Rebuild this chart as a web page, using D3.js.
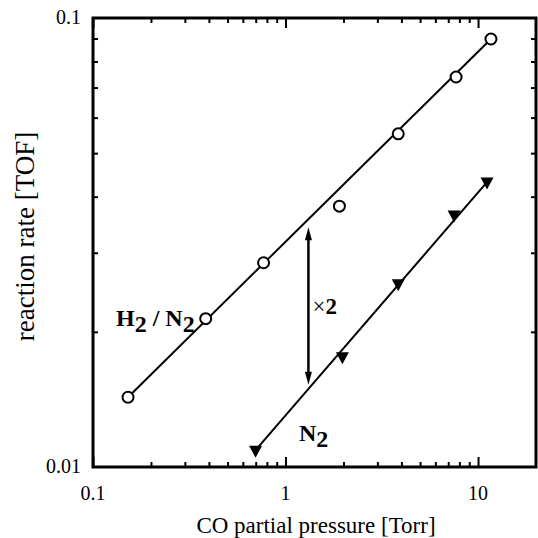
<!DOCTYPE html>
<html>
<head>
<meta charset="utf-8">
<script src="https://cdn.jsdelivr.net/npm/d3@7"></script>
<style>
  body { margin: 0; background: #fff; }
  svg { display: block; }
  text { font-family: "Liberation Serif", "Times New Roman", serif; fill: #000; }
</style>
</head>
<body>
<svg id="chart" width="538" height="538"></svg>
<script>
// data
const h2n2_pressure = [0.152, 0.385, 0.769, 1.905, 3.85, 7.69, 11.67];
const h2n2_rate     = [0.0143, 0.0214, 0.0285, 0.0381, 0.0552, 0.0739, 0.0898];
const n2_pressure   = [0.699, 1.974, 3.85, 7.51, 11.13];
const n2_rate       = [0.0109, 0.0176, 0.0256, 0.0364, 0.0431];
const arrow_x = 1.315, arrow_top = 0.0342, arrow_bottom = 0.01524;
const x_major = [0.1, 1, 10];
const x_minor = [0.2,0.3,0.4,0.5,0.6,0.7,0.8,0.9, 2,3,4,5,6,7,8,9];
const y_major = [0.01, 0.1];
const y_minor = [0.02,0.03,0.04,0.05,0.06,0.07,0.08,0.09];

let width = 538, height = 538,
    margins = {top: 18, bottom: 71, left: 93, right: 2};

const svg = d3.select("#chart");

const x = d3.scaleLog().domain([0.1, 20]).range([margins.left, width - margins.right]);
const y = d3.scaleLog().domain([0.01, 0.1]).range([height - margins.bottom, margins.top]);

const x0 = x.range()[0], x1 = x.range()[1], yb = y.range()[0], yt = y.range()[1];

// inward ticks on all four sides
function ticks(axisFn, scale, vals, len, transform) {
    svg.append("g")
        .attr("transform", transform)
        .call(axisFn(scale).tickValues(vals).tickSize(-len).tickFormat(""))
        .call(g => g.select(".domain").remove())
        .call(g => g.selectAll("line").attr("stroke", "#000").attr("stroke-width", 2));
}
ticks(d3.axisBottom, x, x_major, 10, `translate(0,${yb})`);
ticks(d3.axisBottom, x, x_minor, 5, `translate(0,${yb})`);
ticks(d3.axisTop, x, x_major, 10, `translate(0,${yt})`);
ticks(d3.axisTop, x, x_minor, 5, `translate(0,${yt})`);
ticks(d3.axisLeft, y, y_minor, 5, `translate(${x0},0)`);
ticks(d3.axisRight, y, y_minor, 5, `translate(${x1},0)`);

svg.append("rect")
    .attr("x", x0).attr("y", yt)
    .attr("width", x1 - x0).attr("height", yb - yt)
    .attr("fill", "none").attr("stroke", "#000").attr("stroke-width", 3);

// tick labels
svg.selectAll(".xl").data(x_major).enter().append("text")
    .attr("x", d => x(d)).attr("y", yb + 33)
    .attr("text-anchor", "middle").attr("font-size", 20)
    .text(d => d);
svg.selectAll(".yl").data(y_major).enter().append("text")
    .attr("x", x0 - 12).attr("y", d => y(d) + 6)
    .attr("text-anchor", "end").attr("font-size", 20)
    .text(d => d);

// axis titles
svg.append("text")
    .attr("x", 316).attr("y", 533)
    .attr("text-anchor", "middle").attr("font-size", 23)
    .text("CO partial pressure [Torr]");
svg.append("text")
    .attr("transform", `translate(34,${(yt + yb) / 2 - 6}) rotate(-90)`)
    .attr("text-anchor", "middle").attr("font-size", 27)
    .text("reaction rate [TOF]");

// fitted lines
const line = d3.line().x(d => x(d[0])).y(d => y(d[1]));
const h2n2 = d3.zip(h2n2_pressure, h2n2_rate);
const n2 = d3.zip(n2_pressure, n2_rate);
svg.append("path")
    .attr("d", line([h2n2[0], h2n2[h2n2.length - 1]]))
    .attr("stroke", "#000").attr("stroke-width", 2).attr("fill", "none");
svg.append("path")
    .attr("d", line([n2[0], n2[n2.length - 1]]))
    .attr("stroke", "#000").attr("stroke-width", 2).attr("fill", "none");

// markers
svg.selectAll(".circ").data(h2n2).enter().append("circle")
    .attr("cx", d => x(d[0])).attr("cy", d => y(d[1])).attr("r", 5.5)
    .attr("fill", "#fff").attr("stroke", "#000").attr("stroke-width", 2);
svg.selectAll(".tri").data(n2).enter().append("path")
    .attr("transform", d => `translate(${x(d[0])},${y(d[1])})`)
    .attr("d", "M-6.5,-4.5L6.5,-4.5L0,7.5Z")
    .attr("fill", "#000");

// double arrow (x2)
const ax = x(arrow_x), ay1 = y(arrow_top), ay2 = y(arrow_bottom);
svg.append("line")
    .attr("x1", ax).attr("x2", ax).attr("y1", ay1 + 6).attr("y2", ay2 - 6)
    .attr("stroke", "#000").attr("stroke-width", 2.5);
svg.append("path")
    .attr("d", `M${ax},${ay1}L${ax - 3.5},${ay1 + 13}L${ax + 3.5},${ay1 + 13}Z`)
    .attr("fill", "#000");
svg.append("path")
    .attr("d", `M${ax},${ay2}L${ax - 3.5},${ay2 - 13}L${ax + 3.5},${ay2 - 13}Z`)
    .attr("fill", "#000");

const times = svg.append("text")
    .attr("x", ax + 4).attr("y", (ay1 + ay2) / 2 + 8)
    .attr("font-size", 23);
times.append("tspan").text("\u00d7");
times.append("tspan").attr("font-weight", "bold").text("2");

// series labels
function chem(xp, yp, parts) {
    const t = svg.append("text").attr("x", xp).attr("y", yp)
        .attr("font-size", 24).attr("font-weight", "bold");
    parts.forEach(p => {
        t.append("tspan").attr("dy", p[1]).text(p[0]);
    });
}
chem(116, 326, [["H", 0], ["2", 6], [" / N", -6], ["2", 6]]);
chem(299, 441, [["N", 0], ["2", 6]]);
</script>
</body>
</html>
